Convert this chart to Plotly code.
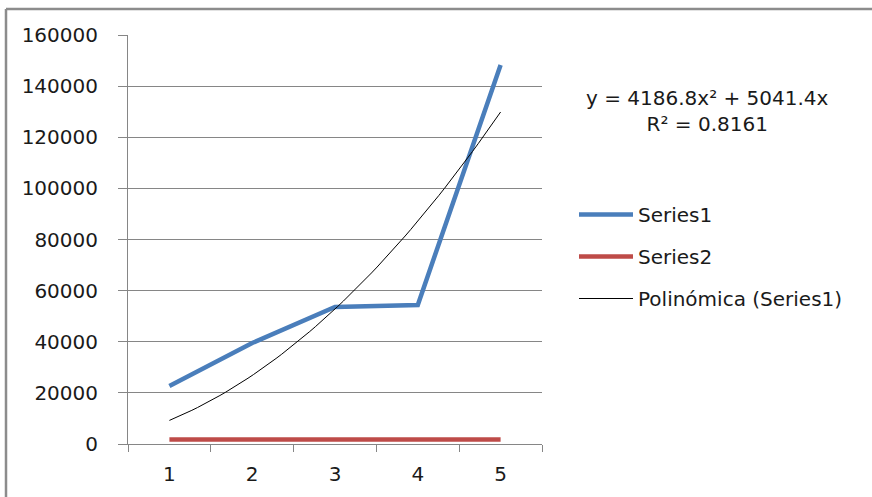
import numpy as np
import plotly.graph_objects as go

categories = [1, 2, 3, 4, 5]
series1 = [22700, 39500, 53600, 54400, 148300]
series2 = [1800, 1800, 1800, 1800, 1800]
trend_a = 4186.8
trend_b = 5041.4
trend_r2 = 0.8161
y_ticks = [0, 20000, 40000, 60000, 80000, 100000, 120000, 140000, 160000]
y_tick_labels = [str(v) for v in y_ticks]

W, H = 872, 497
L, R, T, B = 128, 542, 35, 444
FONT = "DejaVu Sans"
FS = 20

tx = np.linspace(categories[0], categories[-1], 60)
ty = trend_a * tx**2 + trend_b * tx

fig = go.Figure()
fig.add_trace(go.Scatter(x=categories, y=series1, mode="lines", name="Series1",
                         line=dict(color="#4A7EBB", width=4.5), legendgroup="a"))
fig.add_trace(go.Scatter(x=categories, y=series2, mode="lines", name="Series2",
                         line=dict(color="#BE4B48", width=4.5), legendgroup="b"))
fig.add_trace(go.Scatter(x=tx, y=ty, mode="lines", name="Polinómica (Series1)",
                         line=dict(color="black", width=1), legendgroup="c"))

def px(xp):
    return (xp - L) / (R - L)

def py(yp):
    return (B - yp) / (B - T)

grey = "#868686"
fig.update_layout(
    width=W, height=H,
    margin=dict(l=L, r=W - R, t=T, b=H - B, autoexpand=False),
    paper_bgcolor="white", plot_bgcolor="white",
    font=dict(family=FONT, size=FS, color="#1a1a1a"),
    xaxis=dict(range=[0.5, 5.5], tickvals=categories, ticktext=[str(c) for c in categories],
               showgrid=False, zeroline=False, showline=True, linecolor=grey, linewidth=1,
               ticks="", ticklabelstandoff=12,
               minor=dict(ticks="outside", tick0=0.5, dtick=1, ticklen=7, tickcolor=grey, showgrid=False)),
    yaxis=dict(range=[0, 160000], tickvals=y_ticks, ticktext=y_tick_labels,
               showgrid=True, gridcolor=grey, gridwidth=1,
               zeroline=False, showline=True, linecolor=grey, linewidth=1,
               ticks="outside", ticklen=9, tickcolor=grey, ticklabelstandoff=16),
    showlegend=True,
    legend=dict(x=px(574), y=py(195), xanchor="left", yanchor="top",
                traceorder="grouped", tracegroupgap=13, itemwidth=54,
                font=dict(size=FS), bgcolor="rgba(0,0,0,0)"),
    annotations=[dict(x=px(707), y=py(111), xref="paper", yref="paper",
                      xanchor="center", yanchor="middle",
                      text=f"y = {trend_a}x² + {trend_b}x<br>R² = {trend_r2}",
                      showarrow=False, align="center", font=dict(size=FS))],
    shapes=[
        dict(type="line", xref="paper", yref="paper", x0=px(6), x1=px(880), y0=py(9), y1=py(9),
             line=dict(color="#8c8c8c", width=2.5)),
        dict(type="line", xref="paper", yref="paper", x0=px(6), x1=px(6), y0=py(9), y1=py(505),
             line=dict(color="#8c8c8c", width=2.5)),
    ],
)

fig.write_html("out.html", config={"displayModeBar": False},
               post_script="document.body.style.margin='0';")
